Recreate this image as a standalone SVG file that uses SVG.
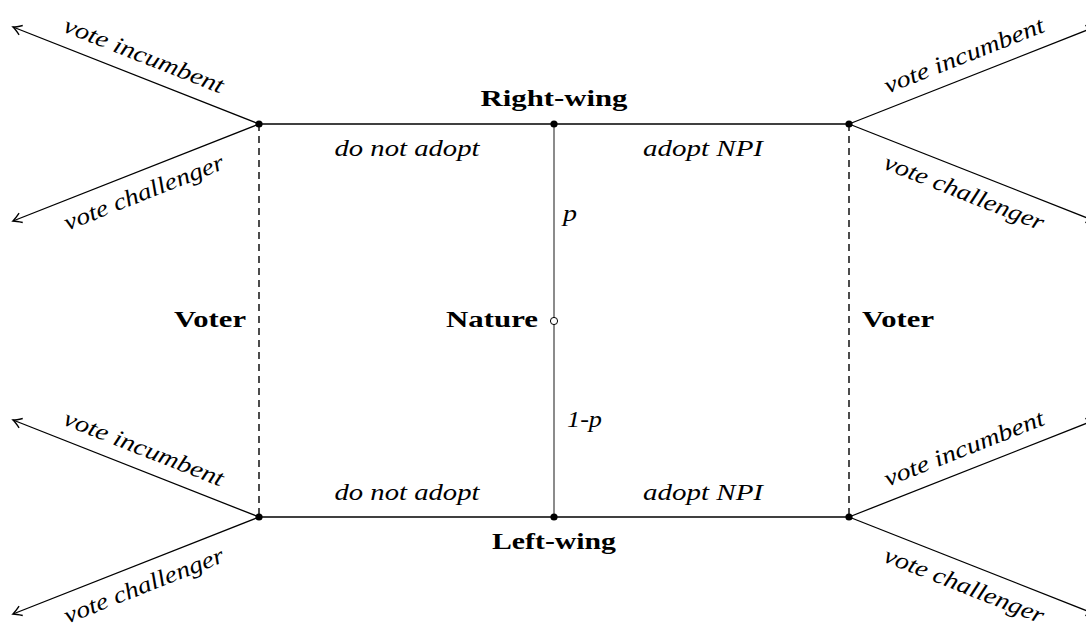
<svg xmlns="http://www.w3.org/2000/svg" width="1086" height="625" viewBox="0 0 1086 625">
<style>
.ln{stroke:#000;stroke-width:1.3;fill:none}
.gr{stroke:#6e6e6e;stroke-width:1.6;fill:none}
.dash{stroke:#000;stroke-width:1.4;fill:none;stroke-dasharray:7,5}
.it{font-family:"Liberation Serif",serif;font-style:italic;font-size:23.5px;fill:#000}
.bf{font-family:"Liberation Serif",serif;font-weight:bold;font-size:23px;fill:#000}
.dot{fill:#000}
</style>
<defs>
<marker id="arr" markerUnits="userSpaceOnUse" viewBox="-12 -7 14 14" refX="0" refY="0" markerWidth="14" markerHeight="14" orient="auto">
<path d="M-8.5,-5 Q-3,-1.2 0,0 Q-3,1.2 -8.5,5" stroke="#000" stroke-width="1.4" fill="none"/>
</marker>
</defs>
<rect width="1086" height="625" fill="#fff"/>
<g id="connectors">
<line class="ln" x1="259" y1="124" x2="849" y2="124"/>
<line class="ln" x1="259" y1="517" x2="849" y2="517"/>
<line class="gr" x1="554" y1="124" x2="554" y2="517"/>
<line class="dash" x1="259" y1="124" x2="259" y2="517"/>
<line class="dash" x1="849" y1="124" x2="849" y2="517"/>
<line class="ln" x1="259" y1="124" x2="13" y2="27" marker-end="url(#arr)"/>
<line class="ln" x1="259" y1="124" x2="13" y2="221" marker-end="url(#arr)"/>
<line class="ln" x1="259" y1="517" x2="13" y2="420" marker-end="url(#arr)"/>
<line class="ln" x1="259" y1="517" x2="13" y2="614" marker-end="url(#arr)"/>
<line class="ln" x1="849" y1="124" x2="1095" y2="27" marker-end="url(#arr)"/>
<line class="ln" x1="849" y1="124" x2="1095" y2="221" marker-end="url(#arr)"/>
<line class="ln" x1="849" y1="517" x2="1095" y2="420" marker-end="url(#arr)"/>
<line class="ln" x1="849" y1="517" x2="1095" y2="614" marker-end="url(#arr)"/>
</g>
<g id="edge-labels">
<text class="it" x="407" y="156" text-anchor="middle" textLength="145" lengthAdjust="spacingAndGlyphs">do not adopt</text>
<text class="it" x="703" y="156" text-anchor="middle" textLength="120" lengthAdjust="spacingAndGlyphs">adopt NPI</text>
<text class="it" x="407" y="500" text-anchor="middle" textLength="145" lengthAdjust="spacingAndGlyphs">do not adopt</text>
<text class="it" x="703" y="500" text-anchor="middle" textLength="120" lengthAdjust="spacingAndGlyphs">adopt NPI</text>
<text class="it" x="563" y="221" textLength="14" lengthAdjust="spacingAndGlyphs">p</text>
<text class="it" x="567" y="427" textLength="35" lengthAdjust="spacingAndGlyphs">1-p</text>
<g transform="translate(136,75.5) rotate(21.5)"><text class="it" x="0" y="-14" text-anchor="middle" textLength="170" lengthAdjust="spacingAndGlyphs">vote incumbent</text></g>
<g transform="translate(136,172.5) rotate(-21.5)"><text class="it" x="0" y="29" text-anchor="middle" textLength="170" lengthAdjust="spacingAndGlyphs">vote challenger</text></g>
<g transform="translate(136,468.5) rotate(21.5)"><text class="it" x="0" y="-14" text-anchor="middle" textLength="170" lengthAdjust="spacingAndGlyphs">vote incumbent</text></g>
<g transform="translate(136,565.5) rotate(-21.5)"><text class="it" x="0" y="29" text-anchor="middle" textLength="170" lengthAdjust="spacingAndGlyphs">vote challenger</text></g>
<g transform="translate(972,75.5) rotate(-21.5)"><text class="it" x="0" y="-14" text-anchor="middle" textLength="170" lengthAdjust="spacingAndGlyphs">vote incumbent</text></g>
<g transform="translate(972,172.5) rotate(21.5)"><text class="it" x="0" y="29" text-anchor="middle" textLength="170" lengthAdjust="spacingAndGlyphs">vote challenger</text></g>
<g transform="translate(972,468.5) rotate(-21.5)"><text class="it" x="0" y="-14" text-anchor="middle" textLength="170" lengthAdjust="spacingAndGlyphs">vote incumbent</text></g>
<g transform="translate(972,565.5) rotate(21.5)"><text class="it" x="0" y="29" text-anchor="middle" textLength="170" lengthAdjust="spacingAndGlyphs">vote challenger</text></g>
</g>
<g id="node-right-wing">
<circle class="dot" cx="554" cy="124" r="3.6"/>
<text class="bf" x="554" y="106" text-anchor="middle" textLength="147" lengthAdjust="spacingAndGlyphs">Right-wing</text>
</g>
<g id="node-left-wing">
<circle class="dot" cx="554" cy="517" r="3.6"/>
<text class="bf" x="554" y="549" text-anchor="middle" textLength="124" lengthAdjust="spacingAndGlyphs">Left-wing</text>
</g>
<g id="node-nature">
<circle cx="554" cy="321" r="3.6" fill="#fff" stroke="#000" stroke-width="1"/>
<text class="bf" x="538" y="327" text-anchor="end" textLength="92" lengthAdjust="spacingAndGlyphs">Nature</text>
</g>
<g id="node-voter-left">
<circle class="dot" cx="259" cy="124" r="3.6"/>
<circle class="dot" cx="259" cy="517" r="3.6"/>
<text class="bf" x="246" y="327" text-anchor="end" textLength="72" lengthAdjust="spacingAndGlyphs">Voter</text>
</g>
<g id="node-voter-right">
<circle class="dot" cx="849" cy="124" r="3.6"/>
<circle class="dot" cx="849" cy="517" r="3.6"/>
<text class="bf" x="862" y="327" textLength="72" lengthAdjust="spacingAndGlyphs">Voter</text>
</g>
</svg>
